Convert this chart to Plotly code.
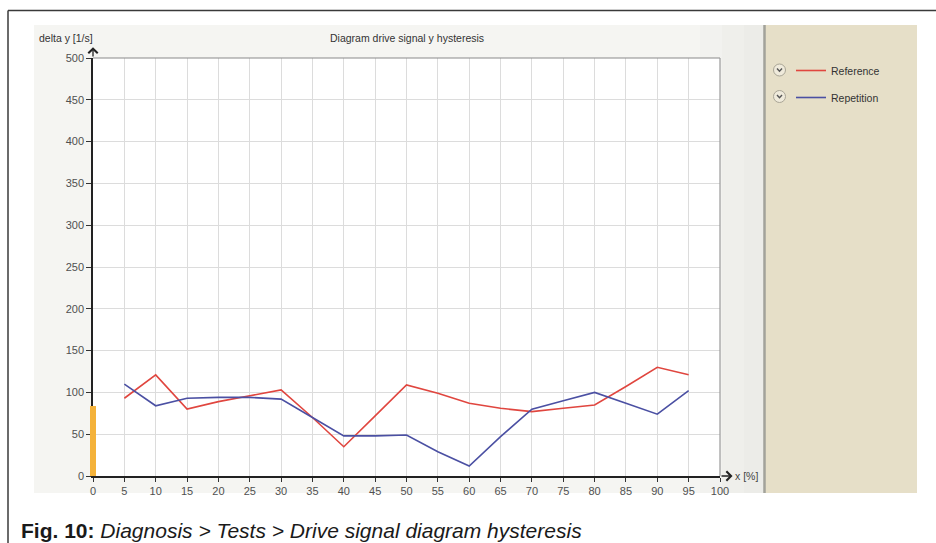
import plotly.graph_objects as go

# ---------------- data ----------------
x_pct = [5, 10, 15, 20, 25, 30, 35, 40, 45, 50, 55, 60, 65, 70, 75, 80, 85, 90, 95]
reference = [93, 121, 80, 89, 96, 103, 70, 35, 72, 109, 99, 87, 81, 77, 81, 85, 107, 130, 121]
repetition = [110, 84, 93, 94, 94, 92, 70, 48, 48, 49, 29, 12, 47, 80, 90, 100, 87, 74, 102]
marker_x = [0]
marker_y = [84]
x_ticks = list(range(0, 101, 5))
y_ticks = list(range(0, 501, 50))

# ---------------- geometry helpers (layout only) ----------------
W, H = 936, 543
ML, MR, MT, MB = 80, 216, 58, 67
PW = W - ML - MR
PH = H - MT - MB


def px(p):
    return (p - ML) / PW


def py(p):
    return (H - MB - p) / PH


FONT = "Liberation Sans, Arial, sans-serif"
RED = "#e0463f"
BLUE = "#4b50a3"

fig = go.Figure()

fig.add_trace(go.Scatter(x=x_pct, y=reference, mode="lines", name="Reference",
                         line=dict(color=RED, width=1.6), legendgroup="a"))
fig.add_trace(go.Scatter(x=x_pct, y=repetition, mode="lines", name="Repetition",
                         line=dict(color=BLUE, width=1.6), legendgroup="b"))
fig.add_trace(go.Bar(x=marker_x, y=marker_y, width=1.3, marker=dict(color="#f4b23a", line=dict(width=0)),
                     xaxis="x2", yaxis="y2", showlegend=False))

shapes = []
# outer frame
shapes.append(dict(type="line", xref="paper", yref="paper", x0=px(8), x1=px(936), y0=py(10.5), y1=py(10.5),
                   line=dict(color="#3a3a3a", width=1.5), layer="above"))
shapes.append(dict(type="line", xref="paper", yref="paper", x0=px(8), x1=px(8), y0=py(10.5), y1=py(543),
                   line=dict(color="#3a3a3a", width=1.5), layer="above"))
# gray panel
shapes.append(dict(type="rect", xref="paper", yref="paper", x0=px(34), x1=px(764), y0=py(493), y1=py(25),
                   fillcolor="#f5f5f2", line=dict(width=0), layer="below"))
for i, c in enumerate(["#f2f2ef", "#efefeb", "#ececE8".lower()]):
    shapes.append(dict(type="rect", xref="paper", yref="paper", x0=px(700 + i * 22), x1=px(764),
                       y0=py(493), y1=py(25), fillcolor=c, line=dict(width=0), layer="below"))
# beige legend panel
shapes.append(dict(type="rect", xref="paper", yref="paper", x0=px(765), x1=px(917), y0=py(493), y1=py(25),
                   fillcolor="#e6dfc8", line=dict(width=0), layer="below"))
shapes.append(dict(type="line", xref="paper", yref="paper", x0=px(764.5), x1=px(764.5), y0=py(493), y1=py(25),
                   line=dict(color="#a2a29a", width=2.5), layer="below"))
# white plot area
shapes.append(dict(type="rect", xref="paper", yref="paper", x0=px(93), x1=px(720), y0=py(476), y1=py(58),
                   fillcolor="#ffffff", line=dict(width=0), layer="below"))
# plot border top/right
shapes.append(dict(type="line", xref="paper", yref="paper", x0=px(93), x1=px(720), y0=py(58), y1=py(58),
                   line=dict(color="#8a8a8a", width=1.2), layer="above"))
shapes.append(dict(type="line", xref="paper", yref="paper", x0=px(720), x1=px(720), y0=py(58), y1=py(476),
                   line=dict(color="#9a9a9a", width=1.2), layer="above"))
# legend icons (circled chevrons)
for cy in (70, 96.5):
    shapes.append(dict(type="circle", xref="paper", yref="paper", x0=px(773.5), x1=px(785.5),
                       y0=py(cy + 6), y1=py(cy - 6), fillcolor="#efeadb",
                       line=dict(color="#a9a596", width=1), layer="above"))
    shapes.append(dict(type="path", xref="paper", yref="paper",
                       path="M {} {} L {} {} L {} {}".format(px(777), py(cy - 1.5), px(779.5), py(cy + 1.2),
                                                            px(782), py(cy - 1.5)),
                       line=dict(color="#555555", width=1.4), layer="above"))

annotations = [
    dict(xref="paper", yref="paper", x=px(407), y=py(38), text="Diagram drive signal y hysteresis",
         showarrow=False, xanchor="center", yanchor="middle", font=dict(family=FONT, size=10.5, color="#333333")),
    dict(xref="paper", yref="paper", x=px(37), y=py(38), text="delta y [1/s]",
         showarrow=False, xanchor="left", yanchor="middle", font=dict(family=FONT, size=10.5, color="#333333")),
    dict(xref="paper", yref="paper", x=px(733), y=py(476), text="x [%]",
         showarrow=False, xanchor="left", yanchor="middle", font=dict(family=FONT, size=10.5, color="#444444")),
    dict(xref="paper", yref="paper", x=px(19), y=py(530), text="<b>Fig. 10:</b> <i>Diagnosis &gt; Tests &gt; Drive signal diagram hysteresis</i>",
         showarrow=False, xanchor="left", yanchor="middle", font=dict(family=FONT, size=21, color="#1a1a1a")),
    # axis arrows
    dict(x=0, y=513, ax=0, ay=500, xref="x", yref="y", axref="x", ayref="y", text="",
         showarrow=True, arrowhead=4, arrowsize=1.4, arrowwidth=1.3, arrowcolor="#222222"),
    dict(x=102, y=0, ax=100, ay=0, xref="x", yref="y", axref="x", ayref="y", text="",
         showarrow=True, arrowhead=4, arrowsize=1.4, arrowwidth=1.3, arrowcolor="#222222"),
]

fig.update_layout(
    width=W, height=H,
    margin=dict(l=ML, r=MR, t=MT, b=MB, autoexpand=False),
    paper_bgcolor="#ffffff",
    plot_bgcolor="rgba(0,0,0,0)",
    font=dict(family=FONT, color="#444444"),
    showlegend=True,
    legend=dict(x=px(791), y=py(56), xanchor="left", yanchor="top", bgcolor="rgba(0,0,0,0)",
                traceorder="grouped", tracegroupgap=8, font=dict(family=FONT, size=10.5, color="#333333"),
                itemwidth=30),
    xaxis=dict(domain=[px(93), 1], range=[0, 100], tickvals=x_ticks, ticktext=[str(v) for v in x_ticks],
               showgrid=True, gridcolor="#dcdcdc", gridwidth=1, zeroline=False,
               showline=True, linecolor="#222222", linewidth=1.5,
               ticks="outside", ticklen=4, tickcolor="#333333", tickwidth=1,
               tickfont=dict(family=FONT, size=11, color="#505050"), fixedrange=True),
    yaxis=dict(domain=[0, 1], range=[0, 500], tickvals=y_ticks, ticktext=[str(v) for v in y_ticks],
               showgrid=True, gridcolor="#dcdcdc", gridwidth=1, zeroline=False,
               showline=True, linecolor="#222222", linewidth=1.5,
               ticks="outside", ticklen=5, tickcolor="#333333", tickwidth=1,
               tickfont=dict(family=FONT, size=11, color="#505050"), fixedrange=True),
    xaxis2=dict(domain=[px(89), px(97)], range=[-1, 1], visible=False, anchor="y2", fixedrange=True),
    yaxis2=dict(domain=[0, 1], range=[0, 500], visible=False, anchor="x2", fixedrange=True),
    shapes=shapes,
    annotations=annotations,
    bargap=0,
)

fig.write_html("out.html", config={"displayModeBar": False},
               post_script="document.body.style.margin='0';document.body.style.overflow='hidden';")
